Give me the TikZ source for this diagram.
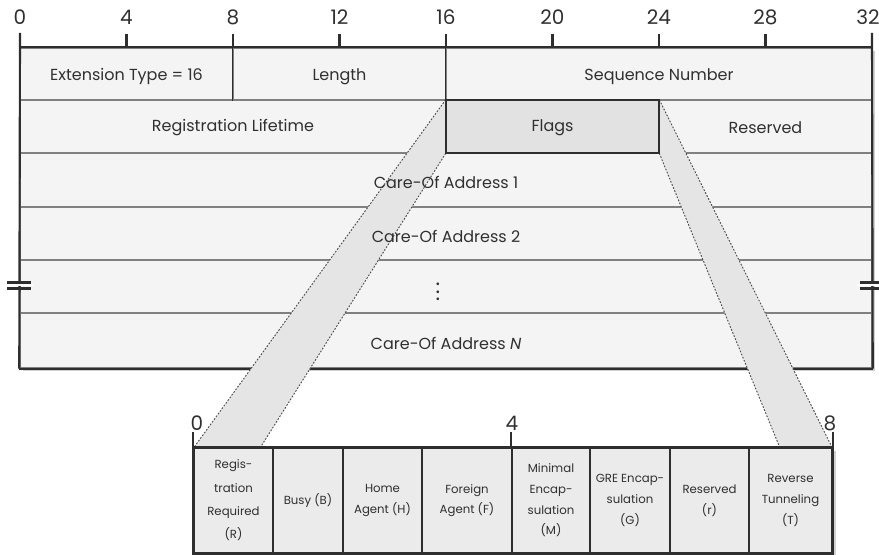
\documentclass[tikz,border=0pt]{standalone}
\usepackage{fontspec}
\setmainfont{Poppins}
\usetikzlibrary{fit, calc}

\definecolor{pktfill}{HTML}{F4F4F4}
\definecolor{flagfill}{HTML}{E2E2E2}
\definecolor{bandfill}{HTML}{E5E5E5}
\definecolor{cellfill}{HTML}{EBEBEB}
\definecolor{rulegray}{HTML}{2E2E2E}
\definecolor{sepgray}{HTML}{808080}
\definecolor{textgray}{HTML}{303030}

\tikzset{
    field/.style={
        fill=pktfill,
        draw=sepgray,
        line width=1.1pt,
        inner sep=0pt
    },
    fieldtext/.style={
        font=\fontsize{12}{14}\selectfont,
        text=textgray
    },
    flagcell/.style={
        fill=cellfill,
        draw=rulegray,
        line width=1.1pt,
        inner sep=0pt
    },
    flagtext/.style={
        font=\fontsize{8.8}{15.5}\selectfont,
        align=center,
        text=textgray
    },
    bitnum/.style={font=\fontsize{15}{17}\selectfont, text=textgray},
    rulestroke/.style={draw=rulegray, line width=1.6pt},
    bandedge/.style={draw=rulegray!85, line width=0.7pt, dash pattern=on 1.3pt off 1.2pt},
    shadow/.style={fill=black!18}
}

\begin{document}
\begin{tikzpicture}[x=0.75pt, y=-0.75pt]
\useasboundingbox (0,0) rectangle (879,555);

% shadows
\fill[shadow] (23,51) rectangle (875,371);
\fill[shadow] (197,451) rectangle (836,556);

% packet fields
\node[field, fit={(20,48) (233,100)}] (ext) {};
\node[field, fit={(233,48) (446,100)}] (len) {};
\node[field, fit={(446,48) (872,100)}] (seq) {};
\node[field, fit={(20,100) (446,153)}] (life) {};
\node[field, fit={(659,100) (872,153)}] (rsv) {};
\node[field, fit={(20,153) (872,207)}] (coa1) {};
\node[field, fit={(20,207) (872,260)}] (coa2) {};
\node[field, fit={(20,260) (872,313)}] (more) {};
\node[field, fit={(20,313) (872,368)}] (coaN) {};

% outline and bit ruler
\draw[rulestroke] (ext.north west) -- (seq.north east);
\draw[rulestroke] (coaN.south west) -- (coaN.south east);
\draw[rulestroke] (20,33) -- (coaN.south west);
\draw[rulestroke] (872,33) -- (coaN.south east);
\draw[draw=rulegray, line width=1.1pt] (len.north west) -- (len.south west);
\draw[draw=rulegray, line width=1.1pt] (seq.north west) -- (seq.south west);
\foreach \b in {4,8,...,28}
    \draw[rulestroke] ({20+\b*26.625},34) -- ({20+\b*26.625},48);
\foreach \b in {0,4,...,28}
    \node[bitnum] at ({20+\b*26.625},17) {\b};
\node[bitnum, anchor=east, inner sep=0pt] at (880,17) {32};

% break marks
\fill[white] (6,284.5) rectangle (33,286.5);
\fill[white] (857,284.5) rectangle (879,286.5);
\draw[rulestroke] (7,282.5) -- (31,282.5) (7,288.5) -- (31,288.5);
\draw[rulestroke] (860,282.5) -- (879,282.5) (860,288.5) -- (879,288.5);

% flag bits
\coordinate (lin) at (260,448);
\coordinate (rin) at (780,448);
\node[fit={(446,100) (659,153)}, inner sep=0pt] (flags) {};
\node[fit={(194,448) (273,553)}, inner sep=0pt] (fr) {};
\node[fit={(749,448) (832,553)}, inner sep=0pt] (ft) {};

% zoom bands
\fill[bandfill] (flags.north west) -- (fr.north west) -- (lin) -- (flags.south west) -- cycle;
\fill[bandfill] (flags.north east) -- (ft.north east) -- (rin) -- (flags.south east) -- cycle;
\draw[bandedge] (flags.north west) -- (fr.north west);
\draw[bandedge] (flags.south west) -- (lin);
\draw[bandedge] (flags.north east) -- (ft.north east);
\draw[bandedge] (flags.south east) -- (rin);

\node[field, fill=flagfill, draw=rulegray, fit={(446,100) (659,153)}] {};

% flags byte
\foreach \l/\r/\n in {194/273/fr, 273/343/fb, 343/422/fh, 422/512/ff,
                      512/590/fm, 590/670/fg, 670/749/fres, 749/832/ft}
    \node[flagcell, fit={(\l,448) (\r,553)}] (\n) {};
\draw[rulestroke] (fr.north west) rectangle (ft.south east);
\draw[rulestroke] (fr.north west) -- ++(0,-15);
\draw[rulestroke] (fm.north west) -- ++(0,-15);
\draw[rulestroke] (ft.north east) -- ++(0,-15);
\node[bitnum] at (197,423) {0};
\node[bitnum] at (512,423) {4};
\node[bitnum] at (830,423) {8};

% labels
\node[fieldtext] at ([yshift=-2]ext.center) {Extension Type = 16};
\node[fieldtext] at ([yshift=-2]len.center) {Length};
\node[fieldtext] at ([yshift=-2]seq.center) {Sequence Number};
\node[fieldtext] at ([yshift=-1]life.center) {Registration Lifetime};
\node[fieldtext] at ([yshift=-1]flags.center) {Flags};
\node[fieldtext] at ([yshift=-1]rsv.center) {Reserved};
\node[fieldtext] at ([yshift=-2]coa1.center) {Care-Of Address 1};
\node[fieldtext] at ([yshift=-2]coa2.center) {Care-Of Address 2};
\node[fieldtext] at ([xshift=-6]more.center) {\scalebox{1.35}{$\vdots$}};
\node[fieldtext] at ([yshift=-2]coaN.center) {Care-Of Address \textit{N}};

\node[flagtext, font=\fontsize{8.8}{17.5}\selectfont] at (fr) {Regis-\\tration\\Required\\(R)};
\node[flagtext] at (fb) {Busy (B)};
\node[flagtext] at (fh) {Home\\Agent (H)};
\node[flagtext] at (ff) {Foreign\\Agent (F)};
\node[flagtext] at (fm) {Minimal\\Encap-\\sulation\\(M)};
\node[flagtext] at (fg) {GRE Encap-\\sulation\\(G)};
\node[flagtext] at (fres) {Reserved\\(r)};
\node[flagtext] at (ft) {Reverse\\Tunneling\\(T)};

\end{tikzpicture}
\end{document}
